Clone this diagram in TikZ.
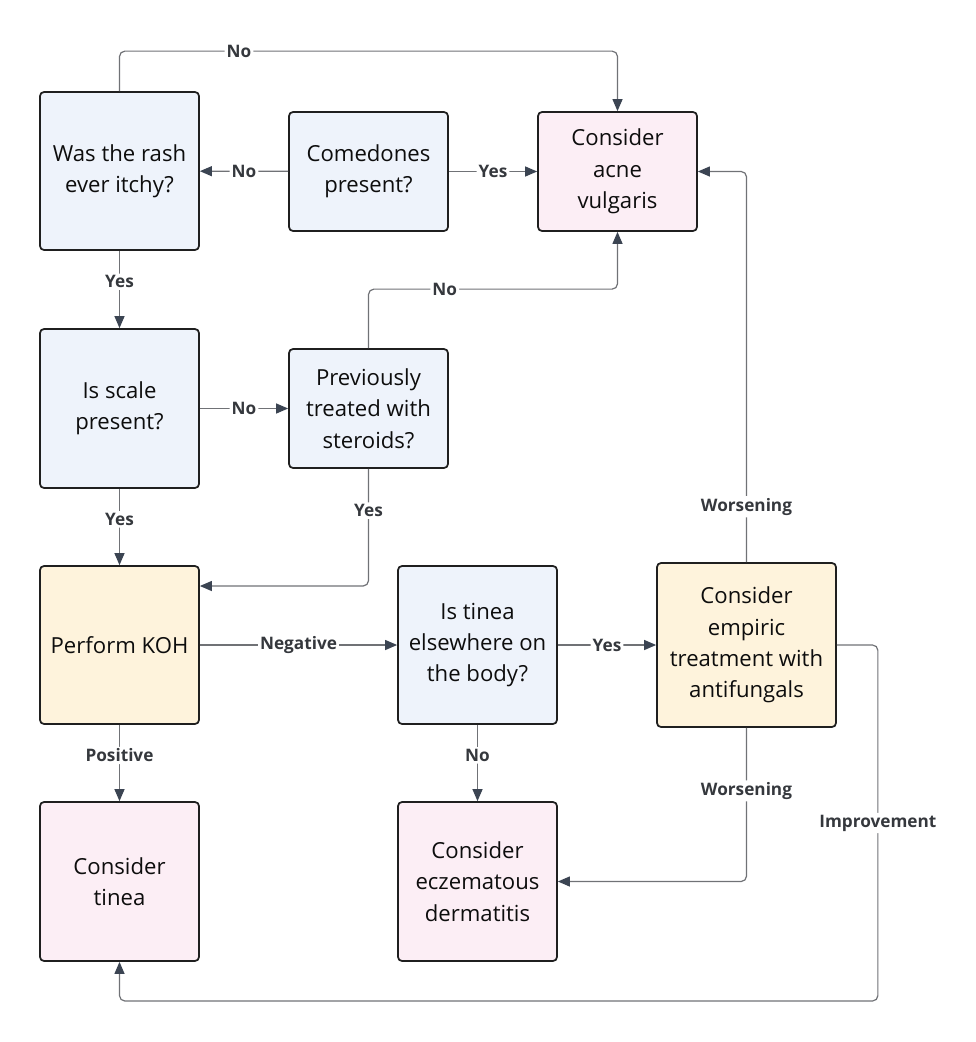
\documentclass[tikz,border=0pt]{standalone}
\usepackage{fontspec}
\setmainfont{Open Sans}
\usetikzlibrary{arrows.meta}
\definecolor{qfill}{HTML}{EEF3FB}
\definecolor{dfill}{HTML}{FCEEF5}
\definecolor{afill}{HTML}{FEF3DC}
\definecolor{linec}{HTML}{707276}
\definecolor{tipc}{HTML}{3B4452}
\definecolor{lblc}{HTML}{35383D}
\begin{document}
\begin{tikzpicture}[x=0.75pt,y=-0.75pt,
    box/.style={draw=black!88,line width=1.3pt,rounded corners=3pt,align=center,inner sep=0pt,
        minimum width=119.25pt,font=\fontsize{16.6}{23.6}\selectfont,text=black!95},
    qbox/.style={box,fill=qfill},
    dbox/.style={box,fill=dfill},
    abox/.style={box,fill=afill},
    flow/.style={draw=linec,line width=0.9pt,rounded corners=4pt,-{Triangle[length=9pt,width=7.5pt,color=tipc]}},
    lbl/.style={fill=white,inner sep=1.5pt,font=\fontsize{12.9}{15}\selectfont\bfseries,text=lblc}]
    \useasboundingbox (0,0) rectangle (975,1042);
    \node[qbox,minimum height=118.5pt] (itchy) at (119.5,171) {Was the rash\\ever itchy?};
    \node[qbox,minimum height=89.25pt] (comedones) at (368.5,171.5) {Comedones\\present?};
    \node[dbox,minimum height=89.25pt] (acne) at (617.5,171.5) {Consider\\acne\\vulgaris};
    \node[qbox,minimum height=119.25pt] (scale) at (119.5,408.5) {Is scale\\present?};
    \node[qbox,minimum height=89.25pt] (steroids) at (368.5,408.5) {Previously\\treated with\\steroids?};
    \node[abox,minimum height=118.5pt] (koh) at (119.5,645) {Perform KOH};
    \node[qbox,minimum height=118.5pt] (elsewhere) at (477.5,645) {Is tinea\\elsewhere on\\the body?};
    \node[abox,minimum width=134.25pt,minimum height=123pt] (empiric) at (746.5,645) {Consider\\empiric\\treatment with\\antifungals};
    \node[dbox,minimum height=119.25pt] (tinea) at (119.5,881.5) {Consider\\tinea};
    \node[dbox,minimum height=119.25pt] (eczema) at (477.5,881.5) {Consider\\eczematous\\dermatitis};

    \draw[flow] (itchy.north) -- ++(0,-40) -| node[lbl,pos=0.12] {No} (acne.north);
    \draw[flow] (comedones) -- node[lbl] {No} (itchy);
    \draw[flow] (comedones) -- node[lbl] {Yes} (acne);
    \draw[flow] (itchy) -- node[lbl,pos=0.4] {Yes} (scale);
    \draw[flow] (scale) -- node[lbl] {No} (steroids);
    \draw[flow] (steroids.north) -- ++(0,-59) -| node[lbl,pos=0.153] {No} (acne.south);
    \draw[flow] (steroids.south) |- node[lbl,pos=0.178] {Yes} ([yshift=44.25pt]koh.east);
    \draw[flow] (scale) -- node[lbl,pos=0.4] {Yes} (koh);
    \draw[flow] (koh) -- node[lbl] {Negative} (elsewhere);
    \draw[flow] (koh) -- node[lbl,pos=0.4] {Positive} (tinea);
    \draw[flow] (elsewhere) -- node[lbl] {Yes} (empiric);
    \draw[flow] (elsewhere) -- node[lbl,pos=0.4] {No} (eczema);
    \draw[flow] (empiric.north) |- node[lbl,pos=0.071] {Worsening} (acne.east);
    \draw[flow] (empiric.south) |- node[lbl,pos=0.205] {Worsening} (eczema.east);
    \draw[flow] (empiric.east) -- ++(41,0) -- node[lbl] {Improvement} ++(0,356) -| (tinea.south);
\end{tikzpicture}
\end{document}
